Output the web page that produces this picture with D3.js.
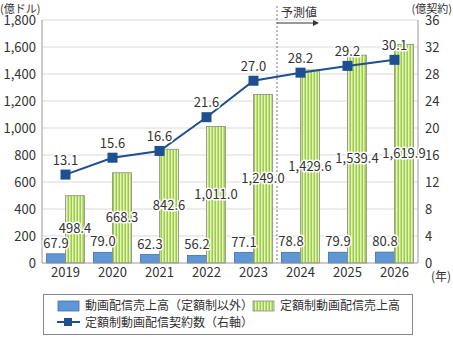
<!DOCTYPE html>
<html>
<head>
<meta charset="utf-8">
<script src="https://cdn.jsdelivr.net/npm/d3@7"></script>
<style>
body { margin: 0; background: #fff; }
svg text { font-family: "Noto Sans CJK JP", "Noto Sans", sans-serif; fill: #333; }
</style>
</head>
<body>
<script>
(function(){
'use strict';

var years = ['2019', '2020', '2021', '2022', '2023', '2024', '2025', '2026'];
var otherSales = [67.9, 79.0, 62.3, 56.2, 77.1, 78.8, 79.9, 80.8];
var subSales = [498.4, 668.3, 842.6, 1011.0, 1249.0, 1429.6, 1539.4, 1619.9];
var subCount = [13.1, 15.6, 16.6, 21.6, 27.0, 28.2, 29.2, 30.1];
var leftTicks = [0, 200, 400, 600, 800, 1000, 1200, 1400, 1600, 1800];
var rightTicks = [0, 4, 8, 12, 16, 20, 24, 28, 32, 36];

var W = 453, H = 337;
var left = 42, right = 418, top = 20, bottom = 263;

var svg = d3.select('body').append('svg')
	.attr('width', W)
	.attr('height', H);

var defs = svg.append('defs');
var pat = defs.append('pattern')
	.attr('id', 'stripe')
	.attr('patternUnits', 'userSpaceOnUse')
	.attr('width', 3)
	.attr('height', 4);
pat.append('rect').attr('width', 3).attr('height', 4).attr('fill', '#e4f3b8');
pat.append('rect').attr('x', 1.5).attr('width', 1.5).attr('height', 4).attr('fill', '#9ccc4a');

var x = d3.scaleBand().domain(years).range([left, right]).padding(0);
var yL = d3.scaleLinear().domain([0, 1800]).range([bottom, top]);
var yR = d3.scaleLinear().domain([0, 36]).range([bottom, top]);

// grid
svg.append('g').selectAll('line')
	.data(leftTicks.slice(1))
	.enter().append('line')
	.attr('x1', left).attr('x2', right)
	.attr('y1', function(d){ return yL(d); })
	.attr('y2', function(d){ return yL(d); })
	.attr('stroke', '#d9d9d9')
	.attr('stroke-width', 1);

// forecast divider
var divX = x('2024');
svg.append('line')
	.attr('x1', divX).attr('x2', divX)
	.attr('y1', 6).attr('y2', bottom)
	.attr('stroke', '#777')
	.attr('stroke-dasharray', '2,2');
svg.append('text')
	.attr('x', divX + 4).attr('y', 17)
	.attr('font-size', 12)
	.text('予測値');
svg.append('line')
	.attr('x1', divX).attr('x2', divX + 38)
	.attr('y1', 23).attr('y2', 23)
	.attr('stroke', '#333').attr('stroke-width', 1);
svg.append('path')
	.attr('d', 'M' + (divX + 42) + ',23 l-6,-3 l0,6 z')
	.attr('fill', '#333');

var bw = 19;
function blueX(i){ return x(years[i]) + x.bandwidth() / 2 - bw; }
function greenX(i){ return x(years[i]) + x.bandwidth() / 2; }

// bars
svg.append('g').selectAll('rect')
	.data(otherSales)
	.enter().append('rect')
	.attr('x', function(d, i){ return blueX(i); })
	.attr('y', function(d){ return yL(d); })
	.attr('width', bw)
	.attr('height', function(d){ return bottom - yL(d); })
	.attr('fill', '#5f97d6')
	.attr('stroke', '#3f6fa8')
	.attr('stroke-width', 0.8);

svg.append('g').selectAll('rect')
	.data(subSales)
	.enter().append('rect')
	.attr('x', function(d, i){ return greenX(i); })
	.attr('y', function(d){ return yL(d); })
	.attr('width', bw)
	.attr('height', function(d){ return bottom - yL(d); })
	.attr('fill', 'url(#stripe)')
	.attr('stroke', '#8a8a8a')
	.attr('stroke-width', 0.8);

// axes lines
svg.append('line').attr('x1', left).attr('x2', left).attr('y1', top).attr('y2', bottom).attr('stroke', '#999');
svg.append('line').attr('x1', right).attr('x2', right).attr('y1', top).attr('y2', bottom).attr('stroke', '#999');
svg.append('line').attr('x1', left).attr('x2', right).attr('y1', bottom).attr('y2', bottom).attr('stroke', '#999');

var axL = svg.append('g')
	.attr('transform', 'translate(' + left + ',0)')
	.call(d3.axisLeft(yL).tickValues(leftTicks).tickSize(0).tickPadding(6).tickFormat(d3.format(',')));
var axR = svg.append('g')
	.attr('transform', 'translate(' + right + ',0)')
	.call(d3.axisRight(yR).tickValues(rightTicks).tickSize(0).tickPadding(7));
var axB = svg.append('g')
	.attr('transform', 'translate(0,' + bottom + ')')
	.call(d3.axisBottom(x).tickSize(0).tickPadding(5));
[axL, axR, axB].forEach(function(a){
	a.select('.domain').remove();
	a.selectAll('text').attr('font-size', 13).attr('fill', '#333')
		.attr('font-family', '"Noto Sans", sans-serif');
});

svg.append('text').attr('x', 0).attr('y', 13).attr('font-size', 11).text('(億ドル)');
svg.append('text').attr('x', W - 1).attr('y', 13).attr('font-size', 11).attr('text-anchor', 'end').text('(億契約)');
svg.append('text').attr('x', 431).attr('y', 281).attr('font-size', 12).text('(年)');

// line
var line = d3.line()
	.x(function(d, i){ return x(years[i]) + x.bandwidth() / 2; })
	.y(function(d){ return yR(d); });
svg.append('path')
	.datum(subCount)
	.attr('d', line)
	.attr('fill', 'none')
	.attr('stroke', '#1d4f91')
	.attr('stroke-width', 2);
svg.append('g').selectAll('rect')
	.data(subCount)
	.enter().append('rect')
	.attr('x', function(d, i){ return x(years[i]) + x.bandwidth() / 2 - 5; })
	.attr('y', function(d){ return yR(d) - 5; })
	.attr('width', 10).attr('height', 10)
	.attr('fill', '#1d4f91');

// labels with halo
function label(g, data, fx, fy, fmt){
	g.selectAll('text')
		.data(data)
		.enter().append('text')
		.attr('x', fx).attr('y', fy)
		.attr('text-anchor', 'middle')
		.attr('font-size', 13)
		.attr('font-family', '"Noto Sans", sans-serif')
		.attr('stroke', '#fff').attr('stroke-width', 3)
		.attr('paint-order', 'stroke')
		.attr('stroke-linejoin', 'round')
		.text(fmt);
}
var f1 = d3.format(',.1f');
label(svg.append('g'), otherSales,
	function(d, i){ return blueX(i) + bw / 2; },
	function(d){ return yL(d) - 6; }, f1);
label(svg.append('g'), subSales,
	function(d, i){ return greenX(i) + bw / 2; },
	function(d){ return yL(d / 2) + 4; }, f1);
label(svg.append('g'), subCount,
	function(d, i){ return x(years[i]) + x.bandwidth() / 2; },
	function(d){ return yR(d) - 10; }, f1);

// legend
var lg = svg.append('g');
lg.append('rect').attr('x', 43.5).attr('y', 294.5).attr('width', 369).attr('height', 40)
	.attr('fill', '#fff').attr('stroke', '#888');
lg.append('rect').attr('x', 58).attr('y', 301).attr('width', 21).attr('height', 10)
	.attr('fill', '#5f97d6').attr('stroke', '#3f6fa8').attr('stroke-width', 0.8);
lg.append('text').attr('x', 85).attr('y', 310).attr('font-size', 12).text('動画配信売上高（定額制以外）');
lg.append('rect').attr('x', 253).attr('y', 301).attr('width', 21).attr('height', 10)
	.attr('fill', 'url(#stripe)').attr('stroke', '#8a8a8a').attr('stroke-width', 0.8);
lg.append('text').attr('x', 280).attr('y', 310).attr('font-size', 12).text('定額制動画配信売上高');
lg.append('line').attr('x1', 57).attr('x2', 80).attr('y1', 322).attr('y2', 322)
	.attr('stroke', '#1d4f91').attr('stroke-width', 2);
lg.append('rect').attr('x', 64).attr('y', 318).attr('width', 8).attr('height', 8).attr('fill', '#1d4f91');
lg.append('text').attr('x', 85).attr('y', 327).attr('font-size', 12).text('定額制動画配信契約数（右軸）');

})();
</script>
</body>
</html>
